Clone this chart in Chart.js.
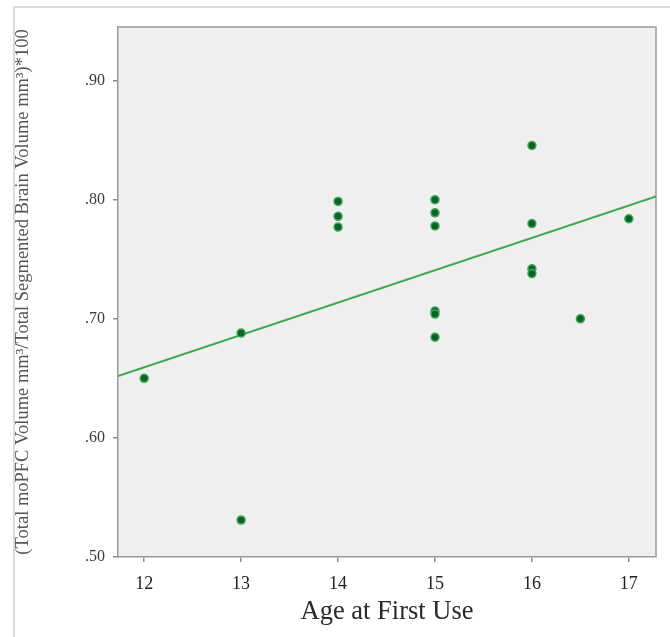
<!DOCTYPE html>
<html>
<head>
<meta charset="utf-8">
<script src="https://cdn.jsdelivr.net/npm/chart.js@4/dist/chart.umd.min.js"></script>
<style>
  body { margin: 0; background: #fff; }
  #wrap { width: 670px; height: 637px; }
</style>
</head>
<body>
<div id="wrap"><canvas id="chartCanvas" width="670" height="637"></canvas></div>
<script>
// данные
const ages = [12, 13, 13, 14, 14, 14, 15, 15, 15, 15, 15, 15, 16, 16, 16, 16, 16.5, 17];
const ratios = [0.650, 0.688, 0.531, 0.7985, 0.786, 0.777, 0.800, 0.789, 0.778, 0.7065, 0.704, 0.6845, 0.8455, 0.780, 0.742, 0.738, 0.700, 0.784];

// линия регрессии (концы у краёв области графика)
const fitAges = [11.73, 17.28];
const fitRatios = [0.652, 0.8027];

const xTicks = [12, 13, 14, 15, 16, 17];
const yTicks = [0.50, 0.60, 0.70, 0.80, 0.90];

const xTitle = "Age at First Use";
const yTitle = "(Total moPFC Volume mm³/Total Segmented Brain Volume mm³)*100";

// фон, рамка и серая область графика
const framePlugin = {
    id: "frame",
    beforeDraw(chart) {
        const ctx = chart.ctx;
        const a = chart.chartArea;
        ctx.save();
        ctx.fillStyle = "#ffffff";
        ctx.fillRect(0, 0, chart.width, chart.height);
        ctx.strokeStyle = "#cfcfcf";
        ctx.lineWidth = 1.5;
        ctx.beginPath();
        ctx.moveTo(14, chart.height);
        ctx.lineTo(14, 7);
        ctx.lineTo(chart.width, 7);
        ctx.stroke();
        ctx.fillStyle = "#efefef";
        ctx.fillRect(a.left, a.top, a.right - a.left, a.bottom - a.top);
        ctx.restore();
    },
    beforeDatasetsDraw(chart) {
        const ctx = chart.ctx;
        const a = chart.chartArea;
        ctx.save();
        ctx.strokeStyle = "#9a9a9a";
        ctx.lineWidth = 1.5;
        ctx.beginPath();
        ctx.moveTo(a.left, a.top);
        ctx.lineTo(a.right, a.top);
        ctx.lineTo(a.right, a.bottom);
        ctx.stroke();
        ctx.restore();
    }
};

const points = ages.map((x, i) => ({ x: x, y: ratios[i] }));
const fitLine = fitAges.map((x, i) => ({ x: x, y: fitRatios[i] }));

new Chart(document.getElementById("chartCanvas"), {
    type: "scatter",
    data: {
        datasets: [
            {
                data: points,
                pointRadius: 4,
                pointBackgroundColor: "#0a6428",
                pointBorderColor: "#3fa557",
                pointBorderWidth: 1.5,
                order: 1
            },
            {
                type: "line",
                data: fitLine,
                borderColor: "#3aaa4c",
                borderWidth: 2,
                pointRadius: 0,
                fill: false,
                order: 2
            }
        ]
    },
    options: {
        responsive: false,
        animation: false,
        layout: { padding: { top: 27, right: 14, left: 0, bottom: 0 } },
        plugins: { legend: { display: false }, tooltip: { enabled: false } },
        scales: {
            x: {
                type: "linear",
                min: 11.73,
                max: 17.28,
                afterBuildTicks: s => { s.ticks = xTicks.map(v => ({ value: v })); },
                afterFit: s => { s.height = 80; },
                grid: { drawOnChartArea: false, drawTicks: true, tickLength: 5, color: "#8a8a8a", lineWidth: 1.5 },
                border: { display: true, color: "#9a9a9a", width: 1.5 },
                ticks: {
                    padding: 11,
                    color: "#222",
                    font: { family: "Liberation Serif", size: 18 },
                    callback: v => String(v)
                },
                title: {
                    display: true,
                    text: xTitle,
                    color: "#2a2a2a",
                    font: { family: "Liberation Serif", size: 26.5 },
                    padding: { top: 0, bottom: 9 }
                }
            },
            y: {
                min: 0.5,
                max: 0.945,
                afterBuildTicks: s => { s.ticks = yTicks.map(v => ({ value: v })); },
                afterFit: s => { s.width = 118; },
                grid: { drawOnChartArea: false, drawTicks: true, tickLength: 5, color: "#8a8a8a", lineWidth: 1.5 },
                border: { display: true, color: "#9a9a9a", width: 1.5 },
                ticks: {
                    padding: 8,
                    color: "#3a3a3a",
                    font: { family: "Liberation Serif", size: 16 },
                    callback: v => v.toFixed(2).replace(/^0/, "")
                },
                title: {
                    display: true,
                    text: yTitle,
                    color: "#555",
                    font: { family: "Liberation Serif", size: 18.5 },
                    padding: { top: 12, bottom: 0 }
                }
            }
        }
    },
    plugins: [framePlugin]
});
</script>
</body>
</html>
